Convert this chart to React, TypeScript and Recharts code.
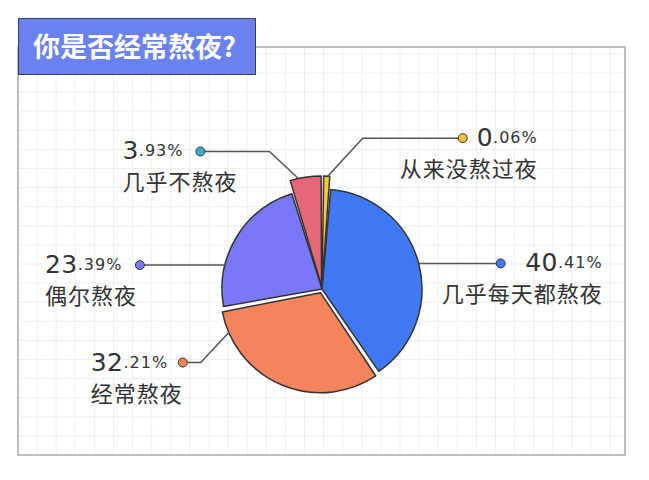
import { PieChart, Pie, Cell, Sector } from "recharts";

const TITLE = "你是否经常熬夜?";
const CATEGORIES = ["几乎每天都熬夜", "经常熬夜", "偶尔熬夜", "几乎不熬夜", "从来没熬过夜"];
const SHARES = [40.41, 32.21, 23.39, 3.93, 0.06];
const SLICE_COLORS = ["#4079f5", "#f4845c", "#7a78f6", "#e56878", "#f7c739"];
const DOT_COLORS = ["#4079f5", "#f4845c", "#7a78f6", "#36aec9", "#f3c237"];

const W = 649;
const H = 480;
const CX = 322;
const CY = 289;
const R = 100;
const RAD = Math.PI / 180;
const INK = "#333";

// how far each slice is pulled out, and how much longer it is
const EXPLODE = [0, 4, 0, 3, 3];
const EXTRA_R = [0, 0, 0, 10, 10];
// leader lines: t = where on the arc the line starts, elbow = diagonal part,
// run = horizontal part to the dot, text = distance from dot to far edge of text
const LEADERS = [
  { t: 0.5, elbow: [0, 0], run: 82, text: 102 },
  { t: 0.89, elbow: [-28, 30], run: -18, text: 92 },
  { t: 0.29, elbow: [0, 0], run: -85, text: 95 },
  { t: 0.27, elbow: [-29, -27], run: -69, text: 78 },
  { t: 0.66, elbow: [35, -38], run: 100, text: 75 },
];

const data = CATEGORIES.map((name, i) => ({ name, value: SHARES[i] }));

function polar(cx: number, cy: number, r: number, angle: number) {
  return [cx + r * Math.cos(-angle * RAD), cy + r * Math.sin(-angle * RAD)];
}

function offsetFor(i: number, midAngle: number) {
  return polar(0, 0, EXPLODE[i] ?? 0, midAngle);
}

function SliceShape(props: any) {
  const i = CATEGORIES.indexOf(props.name);
  const [dx, dy] = offsetFor(i, props.midAngle);
  return (
    <Sector
      cx={props.cx + dx}
      cy={props.cy + dy}
      innerRadius={0}
      outerRadius={props.outerRadius + (EXTRA_R[i] ?? 0)}
      startAngle={props.startAngle}
      endAngle={props.endAngle}
      fill={props.fill}
      stroke={INK}
      strokeWidth={1.5}
      strokeLinejoin="round"
    />
  );
}

function LeaderLabel(props: any) {
  const i = CATEGORIES.indexOf(props.name);
  if (i < 0) return null;
  const L = LEADERS[i];
  const [dx, dy] = offsetFor(i, props.midAngle);
  const angle = props.startAngle + L.t * (props.endAngle - props.startAngle);
  const [ax, ay] = polar(props.cx + dx, props.cy + dy, props.outerRadius + EXTRA_R[i], angle);
  const ex = ax + L.elbow[0];
  const ey = ay + L.elbow[1];
  const px = ex + L.run;
  const right = L.run > 0;
  const tx = right ? px + L.text : px - L.text;
  const anchor = right ? "end" : "start";
  const [whole, frac] = SHARES[i].toFixed(2).split(".");
  return (
    <g>
      <polyline
        points={`${ax},${ay} ${ex},${ey} ${px},${ey}`}
        fill="none"
        stroke="#555"
        strokeWidth={1.5}
      />
      <circle cx={px} cy={ey} r={4.5} fill={DOT_COLORS[i]} stroke={INK} strokeWidth={1} />
      <text x={tx} y={ey - 1} textAnchor={anchor} dominantBaseline="central" fill={INK}>
        <tspan fontFamily="DejaVu Sans" fontSize={25} letterSpacing={0.5}>
          {whole}
        </tspan>
        <tspan fontFamily="DejaVu Sans" fontSize={16} letterSpacing={1}>
          {`.${frac}%`}
        </tspan>
      </text>
      <text
        x={tx}
        y={ey + 29}
        textAnchor={anchor}
        dominantBaseline="central"
        fill={INK}
        fontFamily="Noto Sans CJK SC"
        fontSize={22}
        letterSpacing={1}
      >
        {CATEGORIES[i]}
      </text>
    </g>
  );
}

function Backdrop() {
  const left = 18;
  const top = 47;
  const right = 625;
  const bottom = 455;
  const step = 19.1;
  const xs: number[] = [];
  const ys: number[] = [];
  for (let x = left + step; x < right; x += step) xs.push(x);
  for (let y = bottom - step; y > top; y -= step) ys.push(y);
  return (
    <svg width={W} height={H} style={{ position: "absolute", left: 0, top: 0 }}>
      {xs.map((x) => (
        <line key={"x" + x} x1={x} x2={x} y1={top} y2={bottom} stroke="#efefef" strokeWidth={1} />
      ))}
      {ys.map((y) => (
        <line key={"y" + y} x1={left} x2={right} y1={y} y2={y} stroke="#efefef" strokeWidth={1} />
      ))}
      <rect
        x={left}
        y={top}
        width={right - left}
        height={bottom - top}
        fill="none"
        stroke="#aaa"
        strokeWidth={1.5}
      />
    </svg>
  );
}

export default function App() {
  return (
    <div style={{ position: "relative", width: W, height: H, background: "#fff" }}>
      <style>{"body{margin:0}"}</style>
      <Backdrop />
      <div style={{ position: "absolute", left: 0, top: 0 }}>
        <PieChart width={W} height={H} margin={{ top: 0, right: 0, bottom: 0, left: 0 }}>
          <Pie
            data={data}
            dataKey="value"
            nameKey="name"
            cx={CX}
            cy={CY}
            outerRadius={R}
            startAngle={85}
            endAngle={-275}
            minAngle={3}
            paddingAngle={1}
            stroke={INK}
            strokeWidth={1.5}
            shape={SliceShape}
            label={LeaderLabel}
            labelLine={false}
            isAnimationActive={false}
          >
            {data.map((d, i) => (
              <Cell key={d.name} fill={SLICE_COLORS[i]} />
            ))}
          </Pie>
        </PieChart>
      </div>
      <div
        style={{
          position: "absolute",
          left: 18,
          top: 18,
          width: 238,
          height: 57,
          boxSizing: "border-box",
          background: "#6a82ef",
          border: "1.5px solid #3b3f58",
          color: "#fff",
          fontFamily: "Noto Sans CJK SC",
          fontWeight: 700,
          fontSize: 27,
          lineHeight: "54px",
          paddingLeft: 14,
          whiteSpace: "nowrap",
        }}
      >
        {TITLE}
      </div>
    </div>
  );
}
